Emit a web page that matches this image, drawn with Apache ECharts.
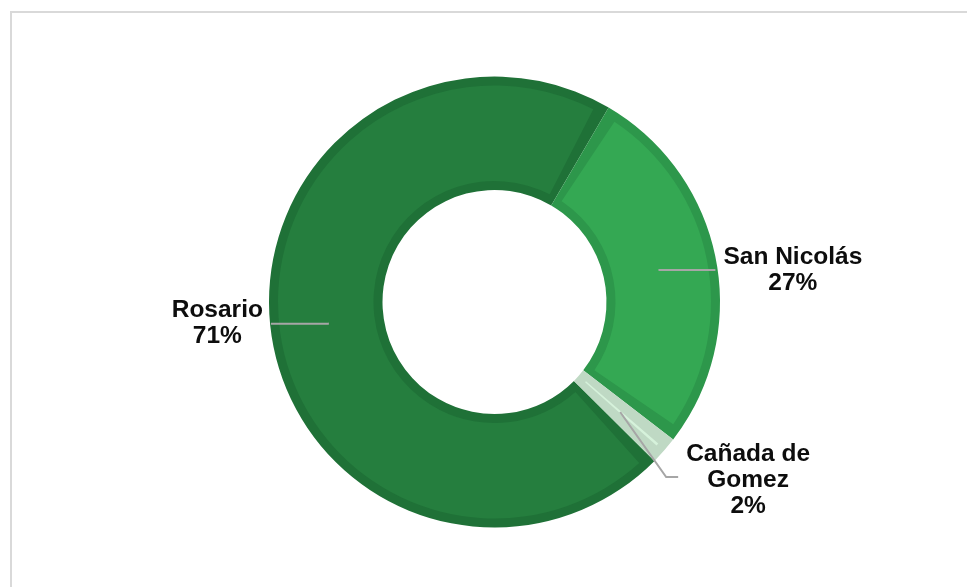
<!DOCTYPE html>
<html>
<head>
<meta charset="utf-8">
<script src="https://cdn.jsdelivr.net/npm/echarts@6/dist/echarts.min.js"></script>
<style>
  body { margin: 0; background: #fff; overflow: hidden; }
  #frame {
    position: absolute; left: 10px; top: 11px;
    width: 1200px; height: 900px;
    border-left: 2px solid #d9d9d9; border-top: 2px solid #d9d9d9;
  }
  #chart { position: absolute; left: 0; top: 0; width: 967px; height: 587px; }
</style>
</head>
<body>
<div id="frame"></div>
<div id="chart"></div>
<script>
// data
const categories = ["Rosario", "San Nicolás", "Cañada de Gomez"];
const shares = [71, 27, 2];
const labelNames = ["Rosario", "San Nicolás", "Cañada de\nGomez"];

const fillColors = ["#257e3e", "#34a853", "#d6f2db"];
const edgeColors = ["#1f7137", "#2d974b", "#bfd9c4"];

const center = [494.5, 302];
const startAngle = -44.8;

const myChart = echarts.init(document.getElementById("chart"));

function pieData(colors) {
  return categories.map((name, i) => ({
    name: name,
    value: shares[i],
    itemStyle: { color: colors[i] },
  }));
}

const labelData = categories.map((name, i) => ({
  name: name,
  value: shares[i],
  itemStyle: { color: "rgba(0,0,0,0)" },
  labelLine: i === 0 ? { length: 1, length2: 57 } : { length: 1, length2: 56 },
}));

const option = {
  animation: false,
  series: [
    {
      // darker rim of every slice
      type: "pie",
      silent: true,
      center: center,
      radius: [112, 225.5],
      startAngle: startAngle,
      label: { show: false },
      labelLine: { show: false },
      data: pieData(edgeColors),
    },
    {
      // slice fill
      type: "pie",
      silent: true,
      center: center,
      radius: [121, 216.5],
      startAngle: startAngle,
      padAngle: 6.5,
      label: { show: false },
      labelLine: { show: false },
      data: pieData(fillColors),
    },
    {
      // carries the labels and the leader lines
      type: "pie",
      silent: true,
      z: 5,
      center: center,
      radius: [0, 167],
      startAngle: startAngle,
      avoidLabelOverlap: false,
      label: {
        show: true,
        position: "outside",
        distanceToLabelLine: 8,
        formatter: (p) => {
          const lines = labelNames[p.dataIndex].split("\n");
          lines.push(p.percent + "%");
          return lines.map((l) => "{t|" + l + "}").join("\n");
        },
        rich: {
          t: {
            align: "center",
            fontSize: 24.5,
            lineHeight: 26,
            fontWeight: "bold",
            fontFamily: "Liberation Sans, Arial, sans-serif",
            color: "#0d0d0d",
          },
        },
      },
      labelLine: {
        show: true,
        lineStyle: { color: "#a6a6a6", width: 2 },
      },
      labelLayout: (p) => {
        if (p.dataIndex !== 2) return {};
        const s = p.labelLinePoints[0];
        const b = [s[0] + 46, s[1] + 65];
        const e = [b[0] + 12, b[1]];
        return {
          x: e[0] + 8,
          y: e[1] + 3,
          align: "left",
          verticalAlign: "middle",
          labelLinePoints: [s, b, e],
        };
      },
      data: labelData,
    },
  ],
};

myChart.setOption(option);
</script>
</body>
</html>
